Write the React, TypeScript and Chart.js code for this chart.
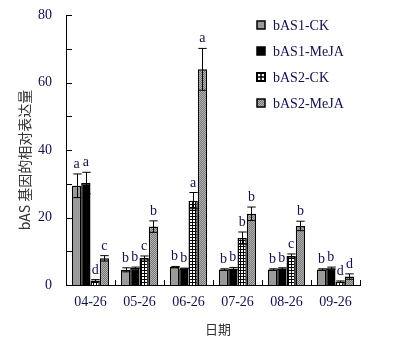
import React, { useEffect, useRef } from 'react';
import { Chart, registerables } from 'chart.js';
Chart.register(...registerables);

const categories = ['04-26', '05-26', '06-26', '07-26', '08-26', '09-26'];
const seriesNames = ['bAS1-CK', 'bAS1-MeJA', 'bAS2-CK', 'bAS2-MeJA'];
const bas1CK = [29.4, 4.5, 5.3, 4.6, 4.6, 4.6];
const bas1CKErr = [3.5, 0.6, 0.2, 0.2, 0.2, 0.2];
const bas1MeJA = [30.2, 5.1, 4.9, 4.9, 4.9, 5.0];
const bas1MeJAErr = [3.2, 0.2, 0.1, 0.3, 0.2, 0.3];
const bas2CK = [1.3, 8.0, 25.0, 13.9, 8.6, 1.0];
const bas2CKErr = [0.3, 0.6, 2.4, 1.8, 0.6, 0.2];
const bas2MeJA = [7.9, 17.3, 63.9, 21.1, 17.5, 2.5];
const bas2MeJAErr = [0.8, 1.7, 6.2, 2.0, 1.4, 0.8];
const letters1CK = ['a', 'b', 'b', 'b', 'b', 'b'];
const letters1MeJA = ['a', 'b', 'b', 'b', 'b', 'b'];
const letters2CK = ['d', 'c', 'a', 'b', 'c', 'd'];
const letters2MeJA = ['c', 'b', 'a', 'b', 'b', 'd'];
const yMin = 0;
const yMax = 80;
const yLabelStep = 20;
const yMinorStep = 10;
const yTitle = 'bAS 基因的相对表达量';
const xTitle = '日期';

const SERIF = '"Liberation Serif", "Times New Roman", serif';
const CJK = '"Noto Sans CJK SC", "Noto Sans", sans-serif';

function makeGrid(): CanvasPattern | string {
  const c = document.createElement('canvas');
  c.width = 3; c.height = 3;
  const g = c.getContext('2d')!;
  g.fillStyle = '#ffffff'; g.fillRect(0, 0, 3, 3);
  g.fillStyle = '#000000'; g.fillRect(0, 0, 3, 1); g.fillRect(0, 0, 1, 3);
  return g.createPattern(c, 'repeat') || '#fff';
}
function makeDots(): CanvasPattern | string {
  const c = document.createElement('canvas');
  c.width = 2; c.height = 2;
  const g = c.getContext('2d')!;
  g.fillStyle = '#767676'; g.fillRect(0, 0, 2, 2);
  g.fillStyle = '#b4b4b4'; g.fillRect(0, 0, 1, 1); g.fillRect(1, 1, 1, 1);
  return g.createPattern(c, 'repeat') || '#999';
}

export default function App() {
  const ref = useRef<HTMLCanvasElement>(null);
  useEffect(() => {
    document.body.style.margin = '0';
    const grid = makeGrid();
    const dots = makeDots();
    const errs = [bas1CKErr, bas1MeJAErr, bas2CKErr, bas2MeJAErr];
    const letters = [letters1CK, letters1MeJA, letters2CK, letters2MeJA];
    const fills: any[] = ['#9a9a9a', '#000000', grid, dots];

    const overlay = {
      id: 'overlay',
      afterDatasetsDraw(chart: any) {
        const ctx = chart.ctx;
        const y = chart.scales.y;
        const area = chart.chartArea;
        ctx.save();
        chart.data.datasets.forEach((ds: any, di: number) => {
          const meta = chart.getDatasetMeta(di);
          meta.data.forEach((bar: any, i: number) => {
            const v = ds.data[i];
            const e = errs[di][i];
            const px = Math.round(bar.x) + 0.5;
            const yt = y.getPixelForValue(v + e);
            const yb = y.getPixelForValue(v - e);
            const cw = bar.width * 0.45;
            ctx.strokeStyle = '#000';
            ctx.lineWidth = 1;
            ctx.beginPath();
            ctx.moveTo(px, yb); ctx.lineTo(px, yt);
            ctx.moveTo(px - cw, yt); ctx.lineTo(px + cw, yt);
            ctx.moveTo(px - cw, yb); ctx.lineTo(px + cw, yb);
            ctx.stroke();
            ctx.fillStyle = '#10104a';
            ctx.font = '14px ' + SERIF;
            ctx.textAlign = 'center';
            ctx.textBaseline = 'alphabetic';
            ctx.fillText(letters[di][i], bar.x, yt - 6);
          });
        });
        ctx.strokeStyle = '#000';
        ctx.lineWidth = 1;
        ctx.beginPath();
        for (let v = yMin; v <= yMax; v += yMinorStep) {
          const py = Math.round(y.getPixelForValue(v)) + 0.5;
          ctx.moveTo(area.left, py); ctx.lineTo(area.left + 6, py);
        }
        const n = categories.length;
        const w = (area.right - area.left) / n;
        for (let i = 1; i <= n; i++) {
          const pxx = Math.round(area.left + i * w) + 0.5;
          ctx.moveTo(pxx, area.bottom); ctx.lineTo(pxx, area.bottom - 5);
        }
        ctx.stroke();
        ctx.fillStyle = '#333';
        ctx.font = '14px ' + CJK;
        ctx.textAlign = 'center';
        ctx.textBaseline = 'middle';
        ctx.save();
        ctx.translate(25, 160);
        ctx.rotate(-Math.PI / 2);
        ctx.fillText(yTitle, 0, 0);
        ctx.restore();
        ctx.font = '13px ' + CJK;
        ctx.fillText(xTitle, (area.left + area.right) / 2 + 5, 329);
        const lx = 257, ly0 = 25, step = 26, bs = 8;
        seriesNames.forEach((name, k) => {
          const cy = ly0 + k * step;
          const bx = lx, by = cy - bs / 2;
          if (k === 2) {
            ctx.fillStyle = '#fff';
            ctx.fillRect(bx, by, bs, bs);
            ctx.strokeStyle = '#000';
            ctx.lineWidth = 2;
            ctx.strokeRect(bx, by, bs, bs);
            ctx.beginPath();
            ctx.lineWidth = 1.5;
            ctx.moveTo(bx + bs / 2, by); ctx.lineTo(bx + bs / 2, by + bs);
            ctx.moveTo(bx, by + bs / 2); ctx.lineTo(bx + bs, by + bs / 2);
            ctx.stroke();
          } else {
            ctx.fillStyle = fills[k];
            ctx.fillRect(bx, by, bs, bs);
            ctx.strokeStyle = '#000';
            ctx.lineWidth = 1.5;
            ctx.strokeRect(bx, by, bs, bs);
          }
          ctx.fillStyle = '#10104a';
          ctx.font = '14px ' + SERIF;
          ctx.textAlign = 'left';
          ctx.textBaseline = 'middle';
          ctx.fillText(name, 273, cy + 1);
        });
        ctx.restore();
      },
    };

    const chart = new Chart(ref.current!, {
      type: 'bar',
      data: {
        labels: categories,
        datasets: [bas1CK, bas1MeJA, bas2CK, bas2MeJA].map((d, k) => ({
          label: seriesNames[k],
          data: d,
          backgroundColor: fills[k],
          borderColor: '#000',
          borderWidth: 1.5,
          categoryPercentage: 0.76,
          barPercentage: 1.0,
        })),
      },
      options: {
        animation: false,
        responsive: false,
        layout: { padding: { left: 0, right: 36, top: 15, bottom: 0 } },
        plugins: { legend: { display: false }, tooltip: { enabled: false } },
        scales: {
          x: {
            offset: true,
            grid: { display: false },
            border: { display: true, color: '#000', width: 1 },
            ticks: { color: '#10104a', font: { family: SERIF, size: 14 }, padding: 1, maxRotation: 0 },
            afterFit: (s: any) => { s.height = 55; },
          },
          y: {
            min: yMin,
            max: yMax,
            grid: { display: false },
            border: { display: true, color: '#000', width: 1 },
            ticks: { stepSize: yLabelStep, color: '#10104a', font: { family: SERIF, size: 14 }, padding: 6 },
            afterFit: (s: any) => { s.width = 66; },
          },
        },
      },
      plugins: [overlay],
    });
    return () => chart.destroy();
  }, []);
  return (
    <div style={{ width: 396, height: 340, background: '#fff' }}>
      <canvas ref={ref} width={396} height={340} />
    </div>
  );
}
